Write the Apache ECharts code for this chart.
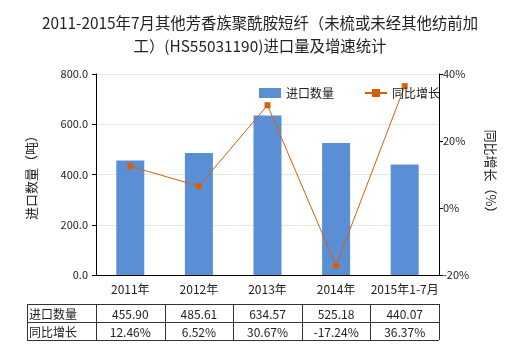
<!DOCTYPE html>
<html>
<head>
<meta charset="utf-8">
<script src="https://cdn.jsdelivr.net/npm/echarts@6/dist/echarts.min.js"></script>
<style>
html,body{margin:0;padding:0;background:#fff;}
#chart{width:520px;height:350px;}
</style>
</head>
<body>
<div id="chart"></div>
<script>
// Import volume (tonnes) and year-on-year growth (%)
const categories = ['2011年', '2012年', '2013年', '2014年', '2015年1-7月'];
const importVolume = [455.90, 485.61, 634.57, 525.18, 440.07];
const yoyGrowth = [12.46, 6.52, 30.67, -17.24, 36.37];
const rowLabels = ['进口数量', '同比增长'];

const FONT = '"Noto Sans CJK SC", "Noto Sans", sans-serif';
const BAR_COLOR = '#5a8fd6';
const LINE_COLOR = '#d4600e';

const chart = echarts.init(document.getElementById('chart'), null, { renderer: 'canvas' });

chart.setOption({
  animation: false,
  backgroundColor: '#fff',
  textStyle: { fontFamily: FONT },
  title: {
    text: '2011-2015年7月其他芳香族聚酰胺短纤（未梳或未经其他纺前加\n工）(HS55031190)进口量及增速统计',
    left: 'center',
    top: 7,
    textStyle: { fontFamily: FONT, fontSize: 15.4, fontWeight: 'normal', color: '#222', lineHeight: 23 }
  },
  legend: {
    left: 254,
    top: 82,
    itemGap: 30,
    itemWidth: 22,
    itemHeight: 10,
    textStyle: { fontFamily: FONT, fontSize: 12, color: '#222' },
    data: [
      { name: '进口数量', icon: 'rect' },
      { name: '同比增长' }
    ]
  },
  grid: { left: 96, right: 81, top: 74, bottom: 75, containLabel: false },
  xAxis: {
    type: 'category',
    data: categories,
    axisLine: { lineStyle: { color: '#000', width: 1 } },
    axisTick: { alignWithLabel: true, length: 4, lineStyle: { color: '#000' } },
    axisLabel: { interval: 0, fontFamily: FONT, fontSize: 12, color: '#222', margin: 8 }
  },
  yAxis: [
    {
      type: 'value',
      min: 0, max: 800, interval: 200,
      name: '进口数量（吨）',
      nameLocation: 'middle',
      nameGap: 58,
      nameRotate: 90,
      nameTextStyle: { fontFamily: FONT, fontSize: 13, color: '#222' },
      axisLine: { show: true, lineStyle: { color: '#000' } },
      axisTick: { show: true, length: 4, lineStyle: { color: '#000' } },
      axisLabel: { fontFamily: FONT, fontSize: 11, color: '#222', formatter: v => v.toFixed(1) },
      splitLine: { show: true, lineStyle: { color: '#e8e8dc', width: 1 } }
    },
    {
      type: 'value',
      min: -20, max: 40, interval: 20,
      name: '同比增长（%）',
      nameLocation: 'middle',
      nameGap: 45,
      nameRotate: -90,
      nameTextStyle: { fontFamily: FONT, fontSize: 13, color: '#222' },
      axisLine: { show: true, lineStyle: { color: '#000' } },
      axisTick: { show: true, length: 4, lineStyle: { color: '#000' } },
      axisLabel: { fontFamily: FONT, fontSize: 11, color: '#222', formatter: '{value}%', margin: 4 },
      splitLine: { show: false }
    }
  ],
  series: [
    {
      name: '进口数量',
      type: 'bar',
      yAxisIndex: 0,
      data: importVolume,
      barWidth: 28,
      itemStyle: { color: BAR_COLOR }
    },
    {
      name: '同比增长',
      type: 'line',
      yAxisIndex: 1,
      data: yoyGrowth,
      symbol: 'rect',
      symbolSize: 6,
      lineStyle: { color: LINE_COLOR, width: 1 },
      itemStyle: { color: LINE_COLOR }
    }
  ]
});

// Data table under the axis, columns aligned with the categories
function drawTable() {
  const top = 304, rowH = 18, left = 27;
  const centers = categories.map((c, i) => chart.convertToPixel({ xAxisIndex: 0 }, i));
  const step = centers.length > 1 ? centers[1] - centers[0] : 68;
  const firstEdge = centers[0] - step / 2;
  const right = centers[centers.length - 1] + step / 2;
  const bottom = top + rowH * 2;
  const elements = [];
  const line = (x1, y1, x2, y2) => elements.push({
    type: 'line', shape: { x1, y1, x2, y2 }, style: { stroke: '#333', lineWidth: 1 }, silent: true
  });
  for (let r = 0; r <= 2; r++) line(left, top + r * rowH + 0.5, right, top + r * rowH + 0.5);
  line(left + 0.5, top, left + 0.5, bottom);
  for (let i = 0; i <= centers.length; i++) {
    const x = Math.round(firstEdge + i * step) + 0.5;
    line(x, top, x, bottom);
  }
  const rows = [
    importVolume.map(v => v.toFixed(2)),
    yoyGrowth.map(v => v.toFixed(2) + '%')
  ];
  rows.forEach((vals, r) => {
    const cy = top + r * rowH + rowH / 2 + 1;
    elements.push({
      type: 'text', x: left + 2, y: cy,
      style: { text: rowLabels[r], fill: '#222', font: '12px ' + FONT, verticalAlign: 'middle', align: 'left' },
      silent: true
    });
    vals.forEach((t, i) => elements.push({
      type: 'text', x: centers[i], y: cy,
      style: { text: t, fill: '#222', font: '12px ' + FONT, verticalAlign: 'middle', align: 'center' },
      silent: true
    }));
  });
  chart.setOption({ graphic: { elements } });
}
drawTable();
</script>
</body>
</html>
